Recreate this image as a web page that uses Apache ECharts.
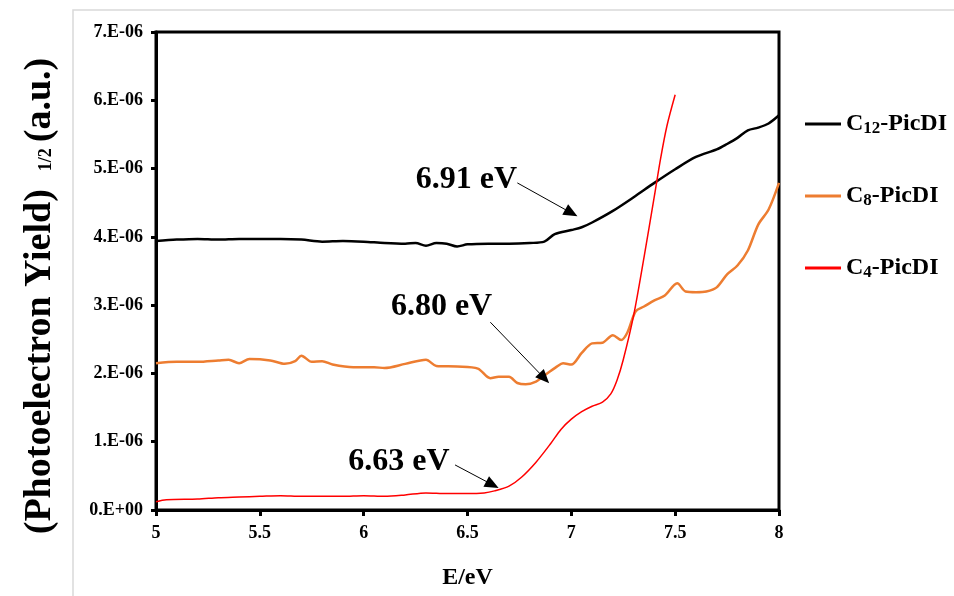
<!DOCTYPE html>
<html>
<head>
<meta charset="utf-8">
<script src="https://cdn.jsdelivr.net/npm/echarts@6/dist/echarts.min.js"></script>
<style>
	html, body { margin: 0; padding: 0; background: #fff; }
	#chart { width: 954px; height: 596px; }
</style>
</head>
<body>
<div id="chart"></div>
<script>
// values, y in units of 1e-6
var seriesNames = ["C12-PicDI", "C8-PicDI", "C4-PicDI"];

var c12X = [5.0, 5.1, 5.2, 5.3, 5.4, 5.5, 5.6, 5.7, 5.8, 5.9, 6.0, 6.1, 6.2, 6.25, 6.3, 6.35, 6.4, 6.45, 6.5, 6.6, 6.7, 6.8, 6.87, 6.92, 7.0, 7.05, 7.1, 7.2, 7.3, 7.4, 7.5, 7.6, 7.7, 7.75, 7.8, 7.85, 7.9, 7.95, 8.0];
var c12Y = [3.94, 3.96, 3.97, 3.96, 3.97, 3.97, 3.97, 3.96, 3.93, 3.94, 3.93, 3.91, 3.90, 3.91, 3.87, 3.91, 3.90, 3.86, 3.89, 3.90, 3.90, 3.91, 3.93, 4.04, 4.10, 4.14, 4.21, 4.38, 4.58, 4.79, 4.99, 5.17, 5.28, 5.36, 5.45, 5.56, 5.60, 5.66, 5.78];

var c8X = [5.0, 5.1, 5.2, 5.3, 5.35, 5.4, 5.45, 5.55, 5.62, 5.67, 5.7, 5.75, 5.8, 5.85, 5.95, 6.05, 6.1, 6.2, 6.3, 6.35, 6.45, 6.55, 6.61, 6.65, 6.7, 6.74, 6.78, 6.83, 6.87, 6.93, 6.96, 7.0, 7.05, 7.1, 7.15, 7.2, 7.24, 7.27, 7.31, 7.35, 7.4, 7.45, 7.51, 7.55, 7.6, 7.65, 7.7, 7.75, 7.8, 7.85, 7.9, 7.95, 8.0];
var c8Y = [2.15, 2.17, 2.17, 2.19, 2.20, 2.15, 2.21, 2.19, 2.14, 2.18, 2.26, 2.17, 2.18, 2.13, 2.09, 2.09, 2.08, 2.14, 2.20, 2.11, 2.10, 2.07, 1.93, 1.95, 1.95, 1.86, 1.84, 1.88, 1.97, 2.10, 2.15, 2.13, 2.30, 2.44, 2.45, 2.56, 2.49, 2.60, 2.91, 2.98, 3.07, 3.14, 3.32, 3.20, 3.19, 3.20, 3.26, 3.45, 3.58, 3.80, 4.18, 4.40, 4.79];

var c4X = [5.0, 5.05, 5.2, 5.3, 5.4, 5.5, 5.6, 5.7, 5.8, 5.9, 6.0, 6.1, 6.2, 6.3, 6.4, 6.5, 6.58, 6.63, 6.7, 6.76, 6.83, 6.9, 6.95, 7.0, 7.05, 7.1, 7.15, 7.19, 7.22, 7.25, 7.3, 7.35, 7.4, 7.43, 7.46, 7.5];
var c4Y = [0.12, 0.15, 0.16, 0.18, 0.19, 0.20, 0.21, 0.20, 0.20, 0.20, 0.21, 0.20, 0.22, 0.25, 0.24, 0.24, 0.25, 0.28, 0.35, 0.48, 0.70, 0.97, 1.18, 1.33, 1.44, 1.52, 1.58, 1.70, 1.90, 2.20, 2.85, 3.70, 4.60, 5.15, 5.62, 6.08];

var xTicks = [5, 5.5, 6, 6.5, 7, 7.5, 8];

// onset labels: text position and arrow start/end (x, y in 1e-6)
var onsetLabels = ["6.91 eV", "6.80 eV", "6.63 eV"];
var onsetTextAt = [[6.495, 4.83], [6.375, 2.97], [6.17, 0.70]];
var arrowFrom = [[6.74, 4.79], [6.61, 2.75], [6.44, 0.66]];
var arrowTo = [[7.0, 4.35], [6.87, 1.93], [6.62, 0.37]];

var SCALE = 1e-6;
var font = "'Liberation Serif', 'Times New Roman', serif";

function pairs(xs, ys) {
	var res = [];
	for (let i = 0; i < xs.length; i++) {
		res.push([xs[i], ys[i] * SCALE]);
	}
	return res;
}

function sciLabel(v) {
	var m = Math.round(v / SCALE);
	if (m === 0) return "0.E+00";
	return m + ".E-06";
}

var legendRich = {
	m: { fontFamily: font, fontWeight: "bold", fontSize: 24, color: "#000" },
	s: { fontFamily: font, fontWeight: "bold", fontSize: 17, color: "#000", padding: [9, 0, 0, 0] },
};

function legendText(name) {
	var num = name.match(/C(\d+)-/)[1];
	return "{m|C}{s|" + num + "}{m|-PicDI}";
}

var markPointData = [];
var markLineData = [];
for (let i = 0; i < onsetLabels.length; i++) {
	markPointData.push({
		name: onsetLabels[i],
		coord: [onsetTextAt[i][0], onsetTextAt[i][1] * SCALE],
	});
	markLineData.push([
		{ coord: [arrowFrom[i][0], arrowFrom[i][1] * SCALE] },
		{ coord: [arrowTo[i][0], arrowTo[i][1] * SCALE] },
	]);
}

var chart = echarts.init(document.getElementById("chart"));

var option = {
	animation: false,
	backgroundColor: "#fff",
	grid: {
		left: 156,
		right: 175,
		top: 32,
		bottom: 86,
		show: true,
		borderColor: "#000",
		borderWidth: 3,
	},
	legend: {
		orient: "vertical",
		left: 800,
		top: 104,
		icon: "rect",
		itemWidth: 36,
		itemHeight: 3,
		itemGap: 42,
		data: seriesNames,
		formatter: legendText,
		textStyle: { lineHeight: 30, rich: legendRich },
	},
	xAxis: {
		type: "value",
		min: 5,
		max: 8,
		interval: 0.5,
		splitLine: { show: false },
		axisLine: { lineStyle: { color: "#000", width: 3 } },
		axisTick: { length: 6, lineStyle: { color: "#000", width: 3 } },
		axisLabel: {
			color: "#000",
			fontFamily: font,
			fontWeight: "bold",
			fontSize: 18,
			margin: 14,
			formatter: function (v) {
				return xTicks.indexOf(v) >= 0 ? String(v) : "";
			},
		},
		name: "E/eV",
		nameLocation: "middle",
		nameGap: 56,
		nameTextStyle: { color: "#000", fontFamily: font, fontWeight: "bold", fontSize: 24 },
	},
	yAxis: {
		type: "value",
		min: 0,
		max: 7 * SCALE,
		interval: SCALE,
		splitLine: { show: false },
		axisLine: { lineStyle: { color: "#000", width: 3 } },
		axisTick: { length: 5, lineStyle: { color: "#000", width: 3 } },
		axisLabel: {
			color: "#000",
			fontFamily: font,
			fontWeight: "bold",
			fontSize: 18,
			margin: 13,
			formatter: sciLabel,
		},
	},
	series: [
		{
			name: seriesNames[0],
			type: "line",
			data: pairs(c12X, c12Y),
			smooth: 0.3,
			symbol: "none",
			lineStyle: { color: "#000", width: 2.5 },
			itemStyle: { color: "#000" },
			markLine: {
				silent: true,
				symbol: ["none", "triangle"],
				symbolSize: [12, 14],
				label: { show: false },
				lineStyle: { color: "#000", width: 1, type: "solid" },
				data: markLineData,
			},
			markPoint: {
				silent: true,
				symbol: "rect",
				symbolSize: 1,
				itemStyle: { color: "rgba(0,0,0,0)" },
				label: {
					show: true,
					position: "inside",
					formatter: "{b}",
					color: "#000",
					fontFamily: font,
					fontWeight: "bold",
					fontSize: 32,
				},
				data: markPointData,
			},
		},
		{
			name: seriesNames[1],
			type: "line",
			data: pairs(c8X, c8Y),
			smooth: 0.3,
			symbol: "none",
			lineStyle: { color: "#ED7D31", width: 2.5 },
			itemStyle: { color: "#ED7D31" },
		},
		{
			name: seriesNames[2],
			type: "line",
			data: pairs(c4X, c4Y),
			smooth: 0.3,
			symbol: "none",
			lineStyle: { color: "#FF0000", width: 1.5 },
			itemStyle: { color: "#FF0000" },
		},
	],
	graphic: [
		{
			type: "rect",
			silent: true,
			shape: { x: 73, y: 10, width: 900, height: 620 },
			style: { fill: "none", stroke: "#d9d9d9", lineWidth: 1.5 },
		},
		{
			type: "text",
			silent: true,
			x: 40,
			y: 296,
			rotation: Math.PI / 2,
			style: {
				text: "{a|(Photoelectron Yield)}{s|1/2}{a|(a.u.)}",
				align: "center",
				verticalAlign: "middle",
				rich: {
					a: { fontFamily: font, fontWeight: "bold", fontSize: 38, fill: "#000" },
					s: {
						fontFamily: font,
						fontWeight: "bold",
						fontSize: 18,
						fill: "#000",
						verticalAlign: "bottom",
						padding: [0, 6, 4, 18],
					},
				},
			},
		},
	],
};

chart.setOption(option);
</script>
</body>
</html>
